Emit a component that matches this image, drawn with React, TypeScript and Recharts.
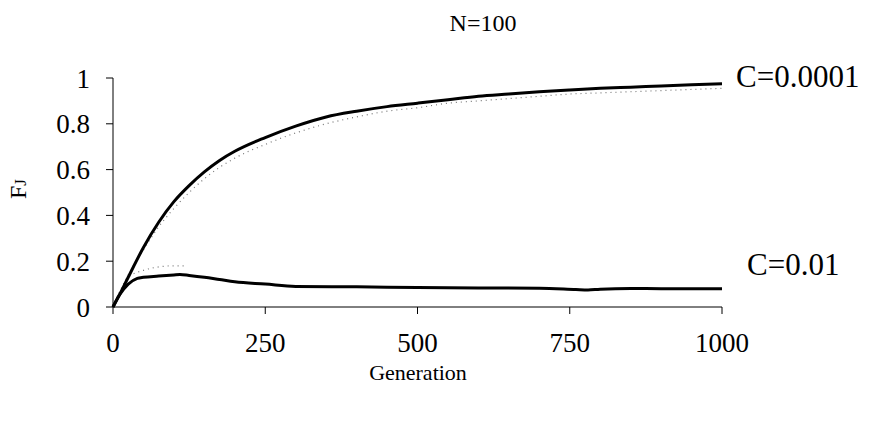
import React from "react";
import { LineChart, Line, XAxis, YAxis } from "recharts";

// generation points
const highGen = [0, 10, 25, 50, 75, 100, 125, 150, 175, 200, 250, 300, 350, 400, 450, 500, 550, 600, 650, 700, 750, 800, 850, 900, 950, 1000];
const highSim = [0, 0.05, 0.13, 0.26, 0.37, 0.46, 0.53, 0.59, 0.64, 0.68, 0.74, 0.79, 0.83, 0.855, 0.875, 0.89, 0.905, 0.92, 0.93, 0.94, 0.948, 0.955, 0.96, 0.965, 0.97, 0.975];
const highTheory = [0, 0.06, 0.14, 0.25, 0.35, 0.43, 0.5, 0.56, 0.61, 0.65, 0.71, 0.76, 0.8, 0.83, 0.855, 0.87, 0.89, 0.9, 0.91, 0.92, 0.93, 0.935, 0.94, 0.945, 0.95, 0.955];

const lowGen = [0, 10, 25, 40, 50, 75, 100, 110, 125, 150, 175, 200, 250, 300, 400, 500, 600, 700, 760, 780, 800, 850, 900, 1000];
const lowSim = [0, 0.05, 0.1, 0.125, 0.13, 0.135, 0.14, 0.142, 0.138, 0.13, 0.12, 0.11, 0.1, 0.09, 0.088, 0.085, 0.083, 0.082, 0.076, 0.074, 0.078, 0.081, 0.08, 0.08];

const lowTheoryGen = [0, 10, 25, 50, 75, 100, 120];
const lowTheory = [0, 0.06, 0.13, 0.16, 0.175, 0.18, 0.18];

const xTicks = [0, 250, 500, 750, 1000];
const yTicks = [0, 0.2, 0.4, 0.6, 0.8, 1];

const highSimData = highGen.map((g, i) => ({ gen: g, fj: highSim[i] }));
const highTheoryData = highGen.map((g, i) => ({ gen: g, fj: highTheory[i] }));
const lowSimData = lowGen.map((g, i) => ({ gen: g, fj: lowSim[i] }));
const lowTheoryData = lowTheoryGen.map((g, i) => ({ gen: g, fj: lowTheory[i] }));

const font = "'Liberation Serif', 'Times New Roman', serif";

export default function App() {
  const tickStyle = { fontFamily: font, fontSize: 27, fill: "#000" };
  return (
    <div style={{ position: "absolute", left: 0, top: 0, width: 869, height: 422, background: "#fff", fontFamily: font }}>
      <LineChart width={869} height={422} margin={{ top: 78, right: 147, left: 53, bottom: 85 }}>
        <XAxis
          type="number"
          dataKey="gen"
          domain={[0, 1000]}
          ticks={xTicks}
          allowDuplicatedCategory={false}
          stroke="#000"
          tickSize={7}
          tickMargin={19}
          tick={tickStyle}
          height={30}
        />
        <YAxis
          type="number"
          dataKey="fj"
          domain={[0, 1]}
          ticks={yTicks}
          stroke="#000"
          tickSize={7}
          tickMargin={16}
          tick={tickStyle}
          width={60}
        />
        <Line data={highTheoryData} dataKey="fj" type="monotone" stroke="#777" strokeWidth={1.2} strokeDasharray="1 4" dot={false} isAnimationActive={false} />
        <Line data={lowTheoryData} dataKey="fj" type="monotone" stroke="#777" strokeWidth={1.2} strokeDasharray="1 4" dot={false} isAnimationActive={false} />
        <Line data={highSimData} dataKey="fj" type="monotone" stroke="#000" strokeWidth={3} dot={false} isAnimationActive={false} />
        <Line data={lowSimData} dataKey="fj" type="monotone" stroke="#000" strokeWidth={3} dot={false} isAnimationActive={false} />
      </LineChart>
      <div style={{ position: "absolute", left: 0, width: 869 + 97, top: 10, textAlign: "center", fontSize: 24 }}>N=100</div>
      <div style={{ position: "absolute", left: 418 - 70, width: 140, top: 360, textAlign: "center", fontSize: 22 }}>Generation</div>
      <div style={{ position: "absolute", left: -2, top: 176, width: 40, height: 26, transform: "rotate(-90deg)", textAlign: "center", fontSize: 24 }}>
        F<span style={{ fontSize: 17 }}>J</span>
      </div>
      <div style={{ position: "absolute", left: 736, top: 59, fontSize: 31 }}>C=0.0001</div>
      <div style={{ position: "absolute", left: 747, top: 247, fontSize: 31 }}>C=0.01</div>
    </div>
  );
}
